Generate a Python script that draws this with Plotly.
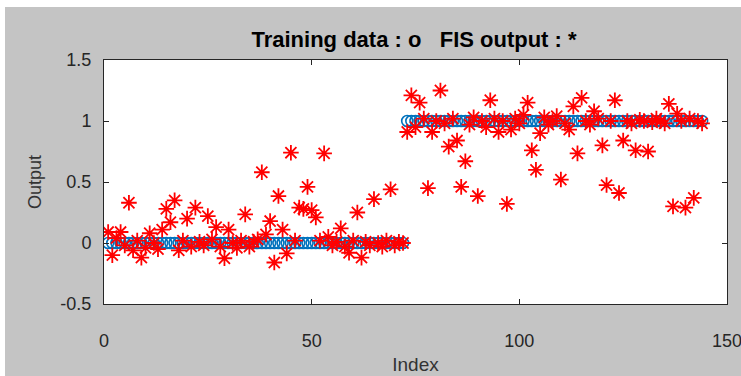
import plotly.graph_objects as go

# Training data (target) and FIS output, one value per index 1..144
index = list(range(1, 145))
training = [0.0] * 72 + [1.0] * 72
fis_output = [
    0.09, -0.10, 0.04, 0.09, -0.02, 0.33, -0.06, 0.02, -0.12, -0.04,
    0.08, 0.00, -0.05, 0.11, 0.28, 0.17, 0.35, -0.06, 0.02, 0.20,
    -0.03, 0.29, 0.01, -0.02, 0.22, 0.03, 0.13, -0.03, -0.125, 0.11,
    0.00, -0.04, 0.02, 0.235, -0.03, 0.01, 0.03, 0.58, 0.07, 0.18,
    -0.16, 0.385, 0.11, -0.085, 0.74, 0.02, 0.29, 0.28, 0.46, 0.27,
    0.21, 0.02, 0.735, 0.05, -0.02, 0.01, 0.12, -0.03, -0.08, 0.02,
    0.25, -0.12, 0.01, -0.02, 0.36, 0.00, -0.03, 0.02, 0.44, -0.02,
    0.01, 0.00,
    0.91, 1.21, 0.95, 1.15, 1.02, 0.45, 0.91, 1.00, 1.25, 0.98,
    0.79, 1.02, 0.84, 0.46, 0.67, 0.97, 1.03, 0.385, 1.00, 0.95,
    1.17, 1.02, 0.91, 1.00, 0.32, 0.93, 1.02, 0.98, 1.05, 1.15,
    0.76, 0.60, 0.90, 1.03, 0.97, 1.00, 1.04, 0.52, 0.98, 0.93,
    1.12, 0.735, 1.19, 1.00, 0.97, 1.08, 1.02, 0.80, 0.475, 1.00,
    1.17, 0.41, 0.84, 1.00, 0.98, 0.76, 1.01, 1.00, 0.75, 0.99,
    1.02, 1.00, 0.98, 1.14, 0.30, 1.06, 1.00, 0.29, 1.02, 0.37,
    1.00, 0.98,
]
x_ticks = [0, 50, 100, 150]
y_ticks = [-0.5, 0, 0.5, 1, 1.5]
y_tick_text = ["-0.5", "0", "0.5", "1", "1.5"]

AX = "#262626"
FONT = "Liberation Sans, Arial, sans-serif"

fig = go.Figure()
fig.add_trace(go.Scatter(
    x=index, y=training, mode="markers",
    marker=dict(symbol="circle-open", size=11, color="#0072BD",
                line=dict(width=1.6, color="#0072BD")),
    name="Training data", showlegend=False, cliponaxis=True,
))
fig.add_trace(go.Scatter(
    x=index, y=fis_output, mode="markers",
    marker=dict(symbol="asterisk-open", size=13, color="#FF0000",
                line=dict(width=1.8, color="#FF0000")),
    name="FIS output", showlegend=False, cliponaxis=True,
))

fig.update_layout(
    width=741, height=376,
    margin=dict(l=104, r=14, t=60, b=72, autoexpand=False),
    paper_bgcolor="#C4C4C4",
    plot_bgcolor="#FFFFFF",
    font=dict(family=FONT, color=AX, size=17),
    title=dict(text="<b>Training data : o   FIS output : *</b>",
               x=(414 / 741), xanchor="center", y=1 - 39 / 376, yanchor="middle",
               font=dict(size=22, color="#000000", family=FONT)),
    xaxis=dict(range=[0, 150], tickvals=x_ticks, ticks="inside", ticklen=5,
               tickcolor=AX, showline=True, linecolor=AX, linewidth=1,
               mirror="ticks", showgrid=False, zeroline=False, automargin=False,
               ticklabelstandoff=20, ticklabeloverflow="allow",
               tickfont=dict(size=18),
               title=dict(text="Index", standoff=8, font=dict(size=19, color="#333333"))),
    yaxis=dict(range=[-0.5, 1.5], tickvals=y_ticks, ticktext=y_tick_text,
               ticks="inside", ticklen=5, tickcolor=AX, showline=True,
               linecolor=AX, linewidth=1, mirror="ticks", showgrid=False,
               zeroline=False, automargin=False, ticklabelstandoff=8,
               ticklabeloverflow="allow", tickfont=dict(size=18),
               title=dict(text="Output", standoff=14, font=dict(size=18, color="#333333"))),
    shapes=[
        dict(type="rect", xref="paper", yref="paper", x0=-104 / 623, x1=-99 / 623,
             y0=-72 / 244, y1=304 / 244, fillcolor="white", line=dict(width=0), layer="above"),
        dict(type="rect", xref="paper", yref="paper", x0=-104 / 623, x1=637 / 623,
             y0=297 / 244, y1=304 / 244, fillcolor="white", line=dict(width=0), layer="above"),
    ],
)

fig.write_html("out.html")
